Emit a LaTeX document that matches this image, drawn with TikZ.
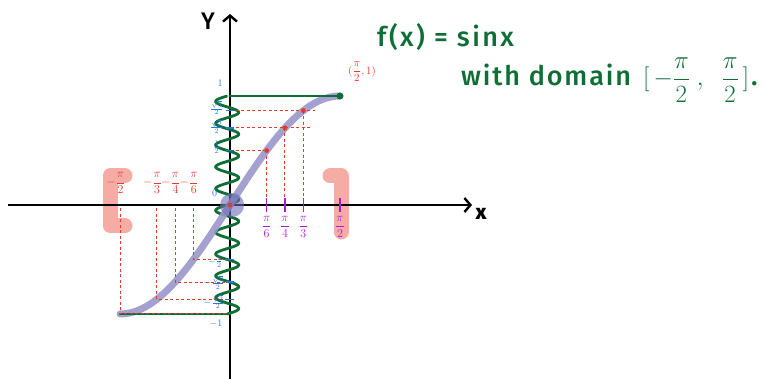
\documentclass[tikz,border=0pt]{standalone}
\usepackage{fontspec}
\setsansfont{Fira Sans}[UprightFont={Fira Sans Medium}]
\usetikzlibrary{arrows.meta}

\definecolor{snGreen}{HTML}{0E6E36}
\definecolor{snRed}{HTML}{E5392C}
\definecolor{snBlue}{HTML}{2478E0}
\definecolor{snViolet}{HTML}{A81CD6}
\definecolor{snCurve}{HTML}{9A97CB}
\definecolor{snKnob}{HTML}{6E6AB5}
\definecolor{snPink}{HTML}{F4A39B}

\tikzset{
    sn axis/.style={line width=2.4pt, black,
                    -{Straight Barb[length=6pt, width=14pt, line width=2.4pt]}},
    sn axislabel/.style={font=\sffamily\fontsize{24}{26}\selectfont, black},
    sn curve/.style={snCurve, line width=7pt, line cap=round, opacity=.9},
    sn wave/.style={snGreen, line width=2.8pt, line cap=round},
    sn bound/.style={snGreen, line width=2.8pt, line cap=round},
    sn guide/.style={snRed, line width=1pt, dash pattern=on 3pt off 2.5pt},
    sn dot/.style={fill=snRed},
    sn bracket/.style={snPink, line width=15pt, line cap=round,
                       line join=round, opacity=.9},
    sn xtick/.style={snViolet, line width=1.4pt},
    sn ytick/.style={snBlue, line width=1.2pt},
    sn neglabel/.style={snRed, font=\fontsize{12}{13}\selectfont, inner sep=1pt},
    sn poslabel/.style={snViolet, font=\fontsize{12}{13}\selectfont, inner sep=1pt},
    sn ylabel/.style={snBlue, font=\fontsize{10}{11}\selectfont, inner sep=0pt},
    sn title/.style={snGreen, font=\sffamily\fontsize{27}{30}\selectfont, inner sep=0pt},
}

\begin{document}
\begin{tikzpicture}[x=1pt, y=-1pt]
    \useasboundingbox (0,0) rectangle (763,379);

    % Domain brackets (drawn first, under the axes)
    \draw[sn bracket] (125,176) -- (110,176) -- (110,226) -- (125,226);
    \draw[sn bracket] (330,176) -- (341,176) -- (341,232);

    % Axes
    \coordinate (xs) at (8,205);
    \coordinate (xe) at (472,205);
    \coordinate (ys) at (230,379);
    \coordinate (ye) at (230,14);
    \draw[sn axis] (xs) -- (xe);
    \draw[sn axis] (ys) -- (ye);
    \node[sn axislabel] (ylab) at (208,21) {Y};
    \node[sn axislabel, font=\sffamily\bfseries\fontsize{21}{22}\selectfont] (xlab) at (481,214) {x};

    \begin{scope}[shift={(230,205)}, x={(70pt,0pt)}, y={(0pt,109pt)}]
        % Range wave on the y axis
        \draw[sn wave] plot[domain=-1:1, samples=300, smooth]
            ({-0.04+0.165*sin(\x*1800)}, \x);

        % Graph of sin on the domain
        \draw[sn curve] plot[domain=-pi/2:pi/2, samples=60, smooth]
            (\x, {sin(\x r)});
        \fill[snKnob, opacity=.6] (0.03,0) circle (12pt);

        % Top and bottom bounds
        \coordinate (top0) at (0,1);
        \coordinate (top1) at ({pi/2},1);
        \coordinate (bot0) at ({-pi/2},-1);
        \coordinate (bot1) at (0,-1);
        \draw[sn bound] (top0) -- (top1);
        \draw[sn bound] (bot0) -- (bot1);
        \fill[snGreen] (top1) circle (3.5pt);

        % Positive side guides
        \foreach \d/\ext in {30/0, 45/0.37, 60/0.17}{
            \coordinate (p\d) at ({\d*pi/180},{sin(\d)});
            \coordinate (py\d) at (0,{sin(\d)});
            \coordinate (px\d) at ({\d*pi/180},0);
            \coordinate (pe\d) at ({\d*pi/180+\ext},{sin(\d)});
            \draw[sn guide] (py\d) -- (pe\d);
            \draw[sn guide] (p\d) -- (px\d);
            \fill[sn dot] (p\d) circle (2.4pt);
        }
        \fill[sn dot] (0,0) circle (2.4pt);

        % Negative side guides
        \foreach \d in {30,45,60,90}{
            \coordinate (nt\d) at ({-\d*pi/180},-0.03);
            \coordinate (n\d) at ({-\d*pi/180},{-sin(\d)});
            \coordinate (ny\d) at (0,{-sin(\d)});
            \draw[sn guide] (nt\d) -- (n\d) -- (ny\d);
        }

        % x ticks and labels
        \foreach \d/\t in {30/6, 45/4, 60/3, 90/2}{
            \coordinate (xt\d) at ({\d*pi/180},0.06);
            \coordinate (xb\d) at ({\d*pi/180},-0.06);
            \draw[sn xtick] (xt\d) -- (xb\d);
            \node[sn poslabel] (xl\d) at ({\d*pi/180},-0.2) {$\displaystyle\frac{\pi}{\t}$};
            \node[sn neglabel] (nl\d) at ({-\d*pi/180-0.06},0.2) {$\displaystyle-\frac{\pi}{\t}$};
        }

        % y ticks and labels
        \foreach \v/\nm in {0.5/a, 0.7071/b, 0.866/c, -0.5/d, -0.7071/e, -0.866/f}{
            \coordinate (tl\nm) at (-0.06,\v);
            \coordinate (tr\nm) at (0.06,\v);
            \draw[sn ytick] (tl\nm) -- (tr\nm);
        }
        \node[sn ylabel] (yl1)  at (-0.14,1.12) {1};
        \node[sn ylabel] (ylc)  at (-0.19,0.89) {$\frac{\sqrt3}{2}$};
        \node[sn ylabel] (ylb)  at (-0.19,0.72) {$\frac{\sqrt2}{2}$};
        \node[sn ylabel] (yla)  at (-0.19,0.53) {$\frac{1}{2}$};
        \node[sn ylabel] (yl0)  at (-0.22,0.11) {0};
        \node[sn ylabel] (yld)  at (-0.21,-0.52) {$-\frac{1}{2}$};
        \node[sn ylabel] (yle)  at (-0.23,-0.71) {$-\frac{\sqrt2}{2}$};
        \node[sn ylabel] (ylf)  at (-0.23,-0.89) {$-\frac{\sqrt3}{2}$};
        \node[sn ylabel] (ylm1) at (-0.2,-1.09) {$-1$};
    \end{scope}

    % Endpoint label and the function text
    \node[snRed, font=\fontsize{11}{12}\selectfont] (plab) at (362,72) {$\displaystyle(\frac{\pi}{2},1)$};
    \node[sn title, anchor=west] (fx) at (377,37)
        {\addfontfeatures{LetterSpace=9}f(x) = sinx};
    \node[sn title, anchor=west] (dom) at (461,80)
        {\addfontfeatures{LetterSpace=7}with domain\hspace{12pt}{\fontsize{30}{32}\selectfont
         $\Bigl[\,-\displaystyle\frac{\pi}{2}\;,\;\;\frac{\pi}{2}\,\Bigr]$}\hspace{2pt}.};
\end{tikzpicture}
\end{document}
